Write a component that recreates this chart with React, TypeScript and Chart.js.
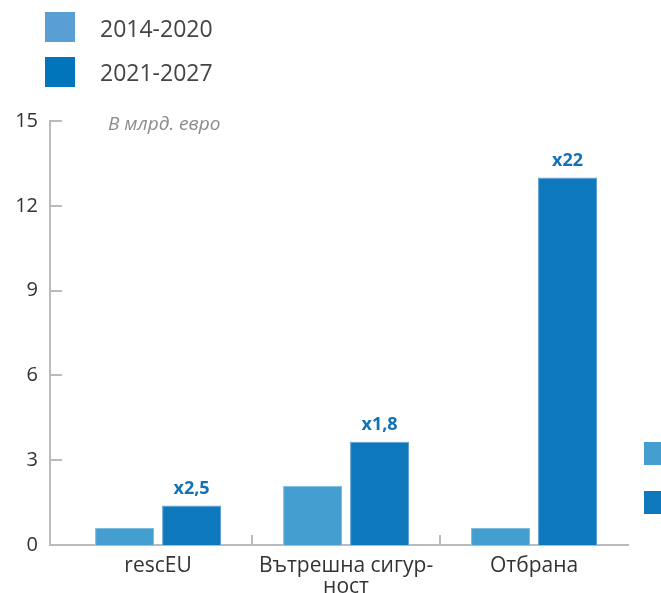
import React, { useEffect, useRef } from "react";
import { Chart, registerables } from "chart.js";

Chart.register(...registerables);

const categories: (string | string[])[] = ["rescEU", ["Вътрешна сигур-", "ност"], "Отбрана"];
const seriesNames = ["2014-2020", "2021-2027"];
const values2014 = [0.6, 2.1, 0.6];
const values2021 = [1.4, 3.65, 13];
const multipliers = ["x2,5", "x1,8", "x22"];
const yTicks = [0, 3, 6, 9, 12, 15];
const unitLabel = "В млрд. евро";

const LIGHT = "#449fd0";
const DARK = "#0e78bc";
const AXIS = "#b9bcbf";
const FONT = "'Open Sans', 'DejaVu Sans', sans-serif";

const decorPlugin = {
  id: "decor",
  afterDraw(chart: any) {
    const ctx = chart.ctx;
    const { left, bottom, top } = chart.chartArea;
    const ys = chart.scales.y;
    const xs = chart.scales.x;
    ctx.save();
    ctx.strokeStyle = AXIS;
    ctx.lineWidth = 2;
    yTicks.forEach((t) => {
      if (t === 0) return;
      const y = Math.round(ys.getPixelForValue(t));
      ctx.beginPath();
      ctx.moveTo(left, y);
      ctx.lineTo(left + 12, y);
      ctx.stroke();
    });
    for (let i = 0; i < categories.length - 1; i++) {
      const x = Math.round((xs.getPixelForValue(i) + xs.getPixelForValue(i + 1)) / 2);
      ctx.beginPath();
      ctx.moveTo(x, bottom);
      ctx.lineTo(x, bottom - 10);
      ctx.stroke();
    }
    // unit label
    ctx.fillStyle = "#8c8c8c";
    ctx.font = `italic 19px ${FONT}`;
    ctx.textAlign = "left";
    ctx.textBaseline = "alphabetic";
    ctx.fillText(unitLabel, left + 58, top + 9);
    // multipliers
    const meta = chart.getDatasetMeta(1);
    ctx.fillStyle = "#1272b6";
    ctx.font = `bold 18px ${FONT}`;
    ctx.textAlign = "center";
    ctx.textBaseline = "middle";
    meta.data.forEach((el: any, i: number) => {
      ctx.fillText(multipliers[i], el.x, el.y - 17);
    });
    ctx.restore();
  },
};

export default function App() {
  const ref = useRef<HTMLCanvasElement>(null);
  useEffect(() => {
    if (!ref.current) return;
    const chart = new Chart(ref.current, {
      type: "bar",
      data: {
        datasets: [
          {
            label: seriesNames[0],
            data: values2014.map((y, i) => ({ x: i, y })),
            backgroundColor: LIGHT,
            borderColor: "#7fbde0",
            borderWidth: 1,
            categoryPercentage: 0.713,
            barPercentage: 0.88,
          },
          {
            label: seriesNames[1],
            data: values2021.map((y, i) => ({ x: i, y })),
            backgroundColor: DARK,
            borderColor: "#5d9fcf",
            borderWidth: 1,
            categoryPercentage: 0.713,
            barPercentage: 0.88,
          },
        ],
      },
      options: {
        animation: false,
        responsive: false,
        devicePixelRatio: 1,
        layout: { padding: { top: 121, right: 33, left: 0, bottom: 0 } },
        plugins: { legend: { display: false }, tooltip: { enabled: false } },
        scales: {
          x: {
            type: "linear",
            offset: false,
            min: -0.575,
            max: 2.5,
            afterBuildTicks: (scale: any) => {
              scale.ticks = categories.map((_, i) => ({ value: i }));
            },
            afterFit: (scale: any) => {
              scale.height = 48;
            },
            grid: { display: false, drawTicks: false, offset: false },
            border: { display: true, color: AXIS, width: 2 },
            ticks: {
              padding: 11,
              color: "#333",
              font: { family: FONT, size: 21, lineHeight: 1.0 },
              callback: (v: any) => categories[Math.round(v)] as any,
            },
          },
          y: {
            min: 0,
            max: 15,
            afterBuildTicks: (scale: any) => {
              scale.ticks = yTicks.map((v) => ({ value: v }));
            },
            afterFit: (scale: any) => {
              scale.width = 50;
            },
            grid: { display: false, drawTicks: false },
            border: { display: true, color: AXIS, width: 2 },
            ticks: {
              padding: 12,
              color: "#333",
              font: { family: FONT, size: 20 },
            },
          },
        },
      },
      plugins: [decorPlugin],
    } as any);
    return () => chart.destroy();
  }, []);

  const legendText: React.CSSProperties = {
    position: "absolute",
    left: 100,
    height: 30,
    display: "flex",
    alignItems: "center",
    fontFamily: FONT,
    fontSize: 23,
    color: "#444",
    whiteSpace: "nowrap",
  };

  return (
    <div
      style={{
        position: "fixed",
        left: 0,
        top: 0,
        width: 661,
        height: 593,
        overflow: "hidden",
        background: "#fff",
      }}
    >
      <canvas ref={ref} width={661} height={593} style={{ position: "absolute", left: 0, top: 0 }} />
      <div style={{ position: "absolute", left: 45, top: 12, width: 30, height: 30, background: "#5a9fd4" }} />
      <div style={{ ...legendText, top: 13 }}>{seriesNames[0]}</div>
      <div style={{ position: "absolute", left: 45, top: 57, width: 30, height: 30, background: "#0075bb" }} />
      <div style={{ ...legendText, top: 57 }}>{seriesNames[1]}</div>
      <div style={{ position: "absolute", left: 644, top: 442, width: 30, height: 23, background: LIGHT }} />
      <div style={{ position: "absolute", left: 644, top: 491, width: 30, height: 23, background: DARK }} />
    </div>
  );
}
